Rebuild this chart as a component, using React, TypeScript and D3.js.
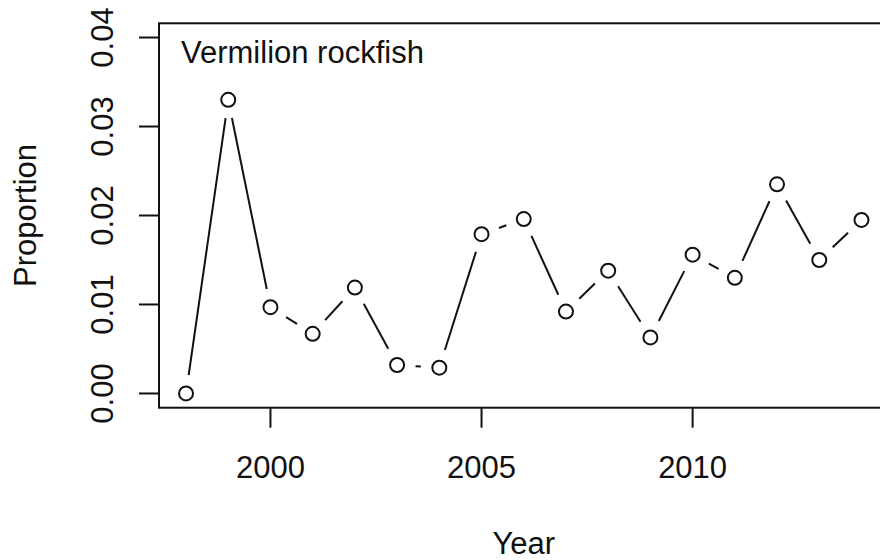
import React from 'react';
import * as d3 from 'd3';

const years = [1998, 1999, 2000, 2001, 2002, 2003, 2004, 2005, 2006, 2007, 2008, 2009, 2010, 2011, 2012, 2013, 2014];
const proportion = [0.0, 0.033, 0.0097, 0.0067, 0.0119, 0.0032, 0.0029, 0.0179, 0.0196, 0.0092, 0.0138, 0.0063, 0.0156, 0.013, 0.0235, 0.015, 0.0195];
const xTicks = [2000, 2005, 2010];
const yTicks = [0.0, 0.01, 0.02, 0.03, 0.04];
const title = 'Vermilion rockfish';

const App: React.FC = () => {
  const width = 880;
  const height = 560;
  const font = '"Liberation Sans", Arial, Helvetica, sans-serif';
  const fs = 31;

  // R-style 4% padding on both axes
  const xScale = d3.scaleLinear().domain([1997.36, 2014.64]).range([159, 888.5]);
  const yScale = d3.scaleLinear().domain([-0.0016, 0.0416]).range([407.7, 23.3]);

  const [x0, x1] = xScale.range();
  const [yB, yT] = yScale.range();
  const r = 7;
  const gap = 18.5;

  const pts = years.map((yr, i) => ({ x: xScale(yr), y: yScale(proportion[i]) }));

  // segments of type="b": shortened so they stop short of each point
  const segs = pts.slice(1).map((p, i) => {
    const a = pts[i];
    const dx = p.x - a.x;
    const dy = p.y - a.y;
    const len = Math.sqrt(dx * dx + dy * dy);
    if (len <= 2 * gap) return null;
    const ux = dx / len;
    const uy = dy / len;
    return { x1: a.x + ux * gap, y1: a.y + uy * gap, x2: p.x - ux * gap, y2: p.y - uy * gap };
  });

  return (
    <div style={{ position: 'absolute', left: 0, top: 0 }}>
      <svg width={width} height={height} viewBox={`0 0 ${width} ${height}`} style={{ display: 'block', background: '#fff' }}>
        <rect x={x0} y={yT} width={x1 - x0} height={yB - yT} fill="none" stroke="#111" strokeWidth="2" />

        {yTicks.map(t => (
          <g key={`y-${t}`}>
            <line x1={x0 - 20} x2={x0} y1={yScale(t)} y2={yScale(t)} stroke="#111" strokeWidth="2" />
            <text
              transform={`translate(113, ${yScale(t)}) rotate(-90)`}
              textAnchor="middle"
              fontFamily={font}
              fontSize={fs}
              fill="#111"
            >
              {t.toFixed(2)}
            </text>
          </g>
        ))}

        {xTicks.map(t => (
          <g key={`x-${t}`}>
            <line x1={xScale(t)} x2={xScale(t)} y1={yB} y2={yB + 20} stroke="#111" strokeWidth="2" />
            <text x={xScale(t)} y={477.7} textAnchor="middle" fontFamily={font} fontSize={fs} fill="#111">
              {t}
            </text>
          </g>
        ))}

        <text x={(x0 + x1) / 2} y={554} textAnchor="middle" fontFamily={font} fontSize={fs} fill="#111">
          Year
        </text>
        <text
          transform={`translate(36, ${(yT + yB) / 2}) rotate(-90)`}
          textAnchor="middle"
          fontFamily={font}
          fontSize={fs}
          fill="#111"
        >
          Proportion
        </text>

        <text x={181} y={63} fontFamily={font} fontSize={fs} fill="#111">
          {title}
        </text>

        <g>
          {segs.map((s, i) =>
            s ? <line key={`s-${i}`} x1={s.x1} y1={s.y1} x2={s.x2} y2={s.y2} stroke="#111" strokeWidth="2" /> : null
          )}
        </g>
        <g>
          {pts.map((p, i) => (
            <circle key={`p-${i}`} cx={p.x} cy={p.y} r={r} fill="none" stroke="#111" strokeWidth="2" />
          ))}
        </g>
      </svg>
    </div>
  );
};

export default App;
